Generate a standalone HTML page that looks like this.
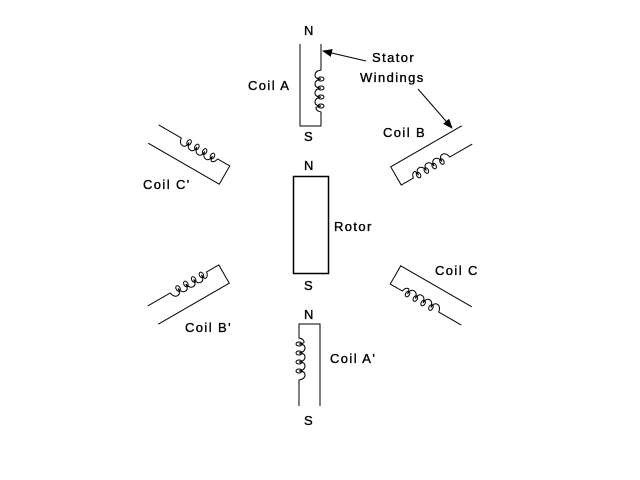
<!DOCTYPE html>
<html><head><style>
html,body{margin:0;padding:0;background:#fff;}
svg{display:block;}
text{font-family:"Liberation Sans",sans-serif;font-size:13px;letter-spacing:1.4px;fill:#000;stroke:#000;stroke-width:0.35;}
</style></head><body>
<svg width="640" height="480" viewBox="0 0 640 480" xmlns="http://www.w3.org/2000/svg">
<defs>
<g id="coil" fill="none" stroke="#000" stroke-width="1">
<path d="M300,44 V126 H321 V112 Q316,111 316,108 M321,44 V70 Q315,71 315,75 Q315,79 321,79 Q315,80 315,84 Q315,88 321,88 Q315,89 315,93 Q315,97 321,97 Q315,98 315,102 Q315,106 321,106 Q315,107 316,108"/>
<ellipse cx="321" cy="79" rx="3" ry="2"/>
<ellipse cx="321" cy="88" rx="3" ry="2"/>
<ellipse cx="321" cy="97" rx="3" ry="2"/>
<ellipse cx="321" cy="106" rx="3" ry="2"/>
</g>
<marker id="ah" markerWidth="10" markerHeight="8" refX="9" refY="4" orient="auto" markerUnits="userSpaceOnUse">
<path d="M0,0 L10,4 L0,8 Z" fill="#000"/>
</marker>
</defs>
<use href="#coil"/>
<use href="#coil" transform="rotate(60 310 225)"/>
<use href="#coil" transform="rotate(120 310 225)"/>
<use href="#coil" transform="rotate(180 310 225)"/>
<use href="#coil" transform="rotate(240 310 225)"/>
<use href="#coil" transform="rotate(300 310 225)"/>
<rect x="293.5" y="176.5" width="35" height="97" fill="none" stroke="#000" stroke-width="1.5"/>
<line x1="366" y1="61" x2="323" y2="51" stroke="#000" marker-end="url(#ah)"/>
<line x1="418" y1="89" x2="452" y2="128" stroke="#000" marker-end="url(#ah)"/>
<text x="304" y="35">N</text>
<text x="304" y="141">S</text>
<text x="304" y="170">N</text>
<text x="304" y="290">S</text>
<text x="304" y="319">N</text>
<text x="304" y="425">S</text>
<text x="248" y="90">Coil A</text>
<text x="372" y="62">Stator</text>
<text x="360" y="82">Windings</text>
<text x="383" y="137">Coil B</text>
<text x="334" y="231">Rotor</text>
<text x="143" y="189">Coil C'</text>
<text x="435" y="275">Coil C</text>
<text x="185" y="332">Coil B'</text>
<text x="330" y="363">Coil A'</text>
</svg>
</body></html>
